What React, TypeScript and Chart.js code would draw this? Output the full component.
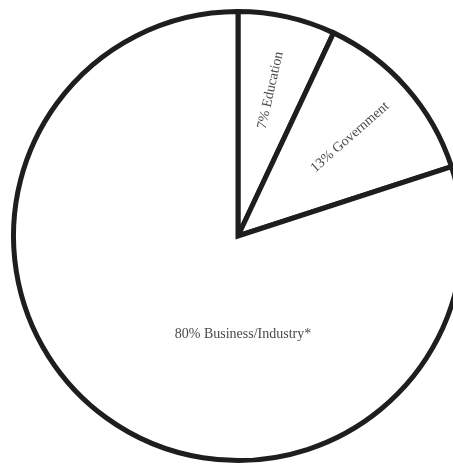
import { useEffect, useRef } from "react";
import { Chart, registerables } from "chart.js";

Chart.register(...registerables);

const categories = ["Education", "Government", "Business/Industry*"];
const shares = [7, 13, 80];
const sliceLabels = ["7% Education", "13% Government", "80% Business/Industry*"];

const labelPlugin = {
  id: "sliceLabels",
  afterDatasetsDraw(chart: any) {
    const meta = chart.getDatasetMeta(0);
    const ctx = chart.ctx;
    ctx.save();
    ctx.font = "14px 'Liberation Serif', serif";
    ctx.fillStyle = "#4a4a4a";
    ctx.textAlign = "center";
    ctx.textBaseline = "middle";
    meta.data.forEach((arc: any, i: number) => {
      const { x, y, startAngle, endAngle, outerRadius } = arc.getProps(
        ["x", "y", "startAngle", "endAngle", "outerRadius"],
        true
      );
      const mid = (startAngle + endAngle) / 2;
      if (i < 2) {
        const r = outerRadius * 0.665;
        ctx.save();
        ctx.translate(x + Math.cos(mid) * r, y + Math.sin(mid) * r);
        ctx.rotate(mid);
        ctx.fillText(sliceLabels[i], 0, 0);
        ctx.restore();
      } else {
        ctx.fillText(sliceLabels[i], x + 5, y + outerRadius * 0.44);
      }
    });
    ctx.restore();
  },
};

export default function App() {
  const ref = useRef<HTMLCanvasElement>(null);
  useEffect(() => {
    if (!ref.current) return;
    const chart = new Chart(ref.current, {
      type: "pie",
      data: {
        labels: categories,
        datasets: [
          {
            data: shares,
            backgroundColor: "#ffffff",
            borderColor: "#1e1e1e",
            borderWidth: 5,
            borderJoinStyle: "miter",
          },
        ],
      },
      options: {
        animation: false,
        responsive: false,
        devicePixelRatio: 1,
        layout: { padding: { left: 11, right: 11, top: 9, bottom: 9 } },
        plugins: {
          legend: { display: false },
          tooltip: { enabled: false },
        },
        events: [],
      },
      plugins: [labelPlugin],
    });
    return () => chart.destroy();
  }, []);
  return (
    <div
      style={{
        position: "fixed",
        left: 0,
        top: 0,
        width: 453,
        height: 466,
        overflow: "hidden",
        background: "#ffffff",
      }}
    >
      <canvas
        ref={ref}
        width={476}
        height={472}
        style={{ position: "absolute", left: 0, top: 0, width: 476, height: 472 }}
      />
    </div>
  );
}
